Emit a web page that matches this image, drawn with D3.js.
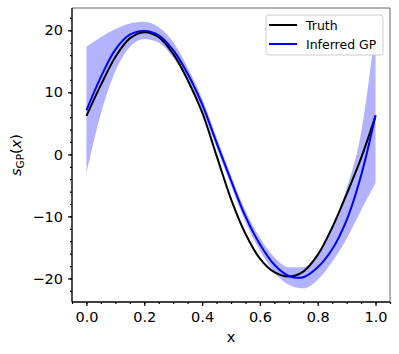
<!DOCTYPE html>
<html><head><meta charset="utf-8">
<script src="https://cdn.jsdelivr.net/npm/d3@7"></script>
<style>html,body{margin:0;padding:0;background:#fff;}svg{display:block;font-family:"DejaVu Sans",sans-serif;}</style>
</head><body>
<svg id="chart" width="399" height="354"></svg>
<script>
const xs     = [0,0.05,0.1,0.15,0.2,0.25,0.3,0.35,0.4,0.45,0.5,0.55,0.6,0.65,0.7,0.75,0.8,0.85,0.9,0.95,1.0];
const truth  = [6.2,11.2,15.7,18.7,19.7,18.9,16.2,12.0,6.8,-0.2,-7.2,-12.8,-16.8,-19.0,-19.7,-18.9,-16.2,-11.8,-6.4,-0.6,6.2];
const gpMean = [7.1,12.5,16.9,19.3,19.9,19.2,16.8,13.0,8.1,1.9,-4.2,-10.0,-14.5,-17.8,-19.6,-19.8,-18.2,-15.3,-10.6,-3.4,6.3];
const gpLow  = [-3.0,6.6,13.4,17.3,18.6,18.0,15.6,12.0,7.2,1.1,-5.0,-10.9,-15.5,-19.0,-21.0,-21.6,-20.2,-17.3,-13.6,-9.0,-4.6];
const gpHigh = [17.4,18.9,20.2,21.1,21.4,20.5,18.1,14.0,9.0,2.8,-3.4,-9.1,-13.5,-16.6,-18.2,-18.2,-16.0,-12.0,-5.5,3.5,20.5];
const xTicks = [0,0.2,0.4,0.6,0.8,1.0];
const yTicks = [-20,-10,0,10,20];
const legendLabels = ["Truth","Inferred GP"];

const svg = d3.select("#chart");
const L=72,R=390,T=8,B=302;
const x = d3.scaleLinear().domain([-0.05,1.05]).range([L,R]);
const y = d3.scaleLinear().domain([-23.8,23.6]).range([B,T]);

const g = svg.append("g");
// band
g.append("path")
  .attr("d", d3.area().x((d,i)=>x(xs[i])).y0((d,i)=>y(gpLow[i])).y1((d,i)=>y(gpHigh[i])).curve(d3.curveMonotoneX)(xs))
  .attr("fill","rgb(178,178,255)").attr("stroke","none");
const line = arr => d3.line().x((d,i)=>x(xs[i])).y((d,i)=>y(arr[i])).curve(d3.curveCatmullRom.alpha(0.5))(xs);
g.append("path").attr("d",line(truth)).attr("fill","none").attr("stroke","#000").attr("stroke-width",2);
g.append("path").attr("d",line(gpMean)).attr("fill","none").attr("stroke","#0000ff").attr("stroke-width",2);

// spines
svg.append("line").attr("x1",L).attr("x2",R).attr("y1",T).attr("y2",T).attr("stroke","#666").attr("stroke-width",1);
svg.append("line").attr("x1",R).attr("x2",R).attr("y1",T).attr("y2",B).attr("stroke","#666").attr("stroke-width",1);

// axes
const xAxis = d3.axisBottom(x).tickValues(xTicks).tickFormat(d3.format(".1f")).tickSize(4).tickPadding(6);
const xMinor = d3.axisBottom(x).tickValues(d3.range(-0.05,1.0501,0.05)).tickFormat("").tickSize(2);
const yAxis = d3.axisLeft(y).tickValues(yTicks).tickFormat(d=>d<0?"\u2212"+Math.abs(d):d).tickSize(4).tickPadding(5);
const yMinor = d3.axisLeft(y).tickValues(d3.range(-22,22.01,2)).tickFormat("").tickSize(2);

function styleAxis(sel){
  sel.select(".domain").remove();
  sel.selectAll("line").attr("stroke","#000").attr("stroke-width",1.2);
  sel.selectAll("text").attr("fill","#000").style("font-size","14.5px").style("font-family","DejaVu Sans");
}
svg.append("g").attr("transform",`translate(0,${B})`).call(xMinor).call(styleAxis);
svg.append("g").attr("transform",`translate(0,${B})`).call(xAxis).call(styleAxis);
svg.append("g").attr("transform",`translate(${L},0)`).call(yMinor).call(styleAxis);
svg.append("g").attr("transform",`translate(${L},0)`).call(yAxis).call(styleAxis);
svg.append("line").attr("x1",L).attr("x2",R).attr("y1",B).attr("y2",B).attr("stroke","#000").attr("stroke-width",1.4);
svg.append("line").attr("x1",L).attr("x2",L).attr("y1",T).attr("y2",B).attr("stroke","#000").attr("stroke-width",1.4);

// axis labels
svg.append("text").attr("x",(L+R)/2).attr("y",342).attr("text-anchor","middle")
  .style("font-size","14.5px").text("x");
const yl = svg.append("text").attr("transform",`translate(21,${(T+B)/2}) rotate(-90)`).attr("text-anchor","middle")
  .style("font-size","14.5px");
yl.append("tspan").style("font-style","italic").text("s");
yl.append("tspan").attr("dy",3).style("font-size","10.5px").text("GP");
yl.append("tspan").attr("dy",-3).text("(");
yl.append("tspan").style("font-style","italic").text("x");
yl.append("tspan").text(")");

// legend
const lg = svg.append("g");
lg.append("rect").attr("x",266).attr("y",15).attr("width",117).attr("height",40).attr("rx",3)
  .attr("fill","#fff").attr("fill-opacity",0.85).attr("stroke","#ccc").attr("stroke-width",1);
const lcol = ["#000","#0000ff"];
legendLabels.forEach((lab,i)=>{
  const yy = 25 + i*19;
  lg.append("line").attr("x1",269).attr("x2",297).attr("y1",yy).attr("y2",yy).attr("stroke",lcol[i]).attr("stroke-width",2);
  lg.append("text").attr("x",306).attr("y",yy+4.5).style("font-size","12.5px").attr("fill","#000").text(lab);
});
</script>
</body></html>
